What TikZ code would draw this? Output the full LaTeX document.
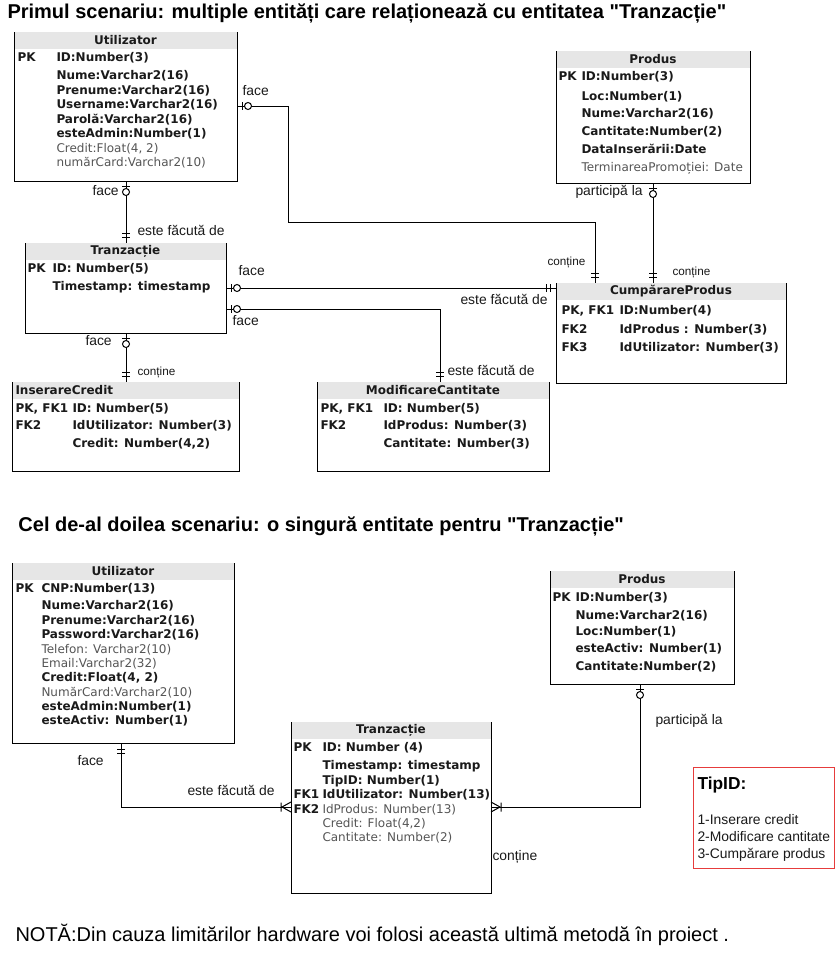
\documentclass[tikz,border=0pt]{standalone}
\usepackage{fontspec}
\setmainfont{Liberation Sans}[Ligatures=TeXOff]
\newfontfamily\erfont{DejaVu Sans}
\usetikzlibrary{calc}

\definecolor{hdrgray}{HTML}{E6E6E6}
\definecolor{txtdark}{HTML}{1A1A1A}
\definecolor{txtlight}{HTML}{555555}
\definecolor{tipred}{RGB}{230,60,60}

\tikzset{
  tbl/.style 2 args={anchor=north west, inner sep=0pt, minimum width=#1*0.75pt, minimum height=#2*0.75pt},
  cell/.style={anchor=mid west, inner sep=0pt, font=\erfont\fontsize{9}{10}\selectfont},
  hdr/.style={inner sep=0pt, font=\erfont\bfseries\fontsize{9}{10}\selectfont, text=txtdark},
  lbl/.style={anchor=mid west, inner sep=0pt, font=\fontsize{10.4}{12}\selectfont, text=txtdark},
  lbls/.style={lbl, font=\fontsize{8.8}{10}\selectfont},
  ttl/.style={anchor=mid west, inner sep=0pt, font=\bfseries\fontsize{15}{18}\selectfont},
}

\newcommand\rowb{\bfseries\color{txtdark}}
\newcommand\rowl{\mdseries\color{txtlight}}

% table frame: name, x, y, width, height (pixels)
\newcommand\ertable[5]{%
  \node[tbl={#4}{#5}] (#1) at (#2,#3) {};
  \fill[hdrgray] (#1.north west) rectangle ($(#1.north east)+(0,17)$);
  \draw (#1.north west) -- (#1.south west) -- (#1.south east) -- (#1.north east);
}
% rows: name, key x, attribute x, list of font/key/attribute/y
\newcommand\errows[4]{%
  \foreach \st/\k/\a/\y [count=\i] in {#4}{
    \node[cell] (#1-k\i) at (#2,\y) {\rowb\k};
    \node[cell] (#1-a\i) at (#3,\y) {\st\a};
  }}
% relation ends: point, direction away from the table
\newcommand\zeroone[2]{\begin{scope}[shift={(#1)},rotate=#2]
  \draw (5,-4) -- (5,4); \draw[fill=white] (11,0) circle[radius=3.5];
  \end{scope}}
\newcommand\oneone[2]{\begin{scope}[shift={(#1)},rotate=#2]
  \draw (6,-4) -- (6,4) (10,-4) -- (10,4);
  \end{scope}}
\newcommand\onemany[2]{\begin{scope}[shift={(#1)},rotate=#2]
  \draw (9,0) -- (0,-5) (9,0) -- (0,5) (10,-4.5) -- (10,4.5);
  \end{scope}}

\begin{document}
\begin{tikzpicture}[x=0.75pt, y=-0.75pt, line width=0.75pt]
  \fill[white] (0,0) rectangle (839,953);

  \node[ttl] (title1) at (7,15) {Primul scenariu: multiple entități care relaționează cu entitatea "Tranzacție"};

  % first scenario
  \ertable{u1}{14}{32}{222}{148}
  \node[hdr] (u1-t) at ($(u1.north)+(0,8.5)$) {Utilizator};
  \errows{u1}{17}{56}{\rowb/PK/{ID:Number(3)}/58, \rowb//{Nume:Varchar2(16)}/76,
    \rowb//{Prenume:Varchar2(16)}/91, \rowb//{Username:Varchar2(16)}/105,
    \rowb//{Parolă:Varchar2(16)}/120, \rowb//{esteAdmin:Number(1)}/134,
    \rowl//{Credit:Float(4, 2)}/149, \rowl//{numărCard:Varchar2(10)}/163}

  \ertable{pr1}{556}{51}{193}{131}
  \node[hdr] (pr1-t) at ($(pr1.north)+(0,8.5)$) {Produs};
  \errows{pr1}{558}{581}{\rowb/PK/{ID:Number(3)}/77, \rowb//{Loc:Number(1)}/97,
    \rowb//{Nume:Varchar2(16)}/114, \rowb//{Cantitate:Number(2)}/132,
    \rowb//{DataInserării:Date}/150, \rowl//{TerminareaPromoției: Date}/168}

  \ertable{tr1}{25}{243}{200}{89}
  \node[hdr] (tr1-t) at ($(tr1.north)+(0,8.5)$) {Tranzacție};
  \errows{tr1}{27}{52}{\rowb/PK/{ID: Number(5)}/269, \rowb//{Timestamp: timestamp}/287}

  \ertable{cp}{556}{283}{229}{99}
  \node[hdr] (cp-t) at ($(cp.north)+(0,8.5)$) {CumpărareProdus};
  \errows{cp}{561}{619}{\rowb/{PK, FK1}/{ID:Number(4)}/311, \rowb/FK2/{IdProdus : Number(3)}/330,
    \rowb/FK3/{IdUtilizator: Number(3)}/348}

  \ertable{ic}{12}{382}{226}{88}
  \node[hdr, anchor=mid west] (ic-t) at ($(ic.north west)+(3,8.5)$) {InserareCredit};
  \errows{ic}{15}{72}{\rowb/{PK, FK1}/{ID: Number(5)}/409, \rowb/FK2/{IdUtilizator: Number(3)}/426,
    \rowb//{Credit: Number(4,2)}/444}

  \ertable{mc}{317}{382}{231}{88}
  \node[hdr] (mc-t) at ($(mc.north)+(0,8.5)$) {ModificareCantitate};
  \errows{mc}{320}{383}{\rowb/{PK, FK1}/{ID: Number(5)}/409, \rowb/FK2/{IdProdus: Number(3)}/426,
    \rowb//{Cantitate: Number(3)}/444}

  \draw ($(u1.north east)+(0,74)$) coordinate (c1a) -- ++(51,0) -- ++(0,116) -| ($(cp.north west)+(39,0)$) coordinate (c1b);
  \draw ($(u1.south west)+(112,0)$) coordinate (c2a) -- (c2a |- tr1.north) coordinate (c2b);
  \draw ($(pr1.south west)+(97,0)$) coordinate (c3a) -- (c3a |- cp.north) coordinate (c3b);
  \draw ($(tr1.north east)+(0,45)$) coordinate (c4a) -- (c4a -| cp.west) coordinate (c4b);
  \draw ($(tr1.north east)+(0,66)$) coordinate (c5a) -| ($(mc.north west)+(123,0)$) coordinate (c5b);
  \draw ($(tr1.south west)+(101,0)$) coordinate (c6a) -- (c6a |- ic.north) coordinate (c6b);
  \zeroone{c1a}{0}   \oneone{c1b}{90}
  \zeroone{c2a}{-90} \oneone{c2b}{90}
  \zeroone{c3a}{-90} \oneone{c3b}{90}
  \zeroone{c4a}{0}   \oneone{c4b}{180}
  \zeroone{c5a}{0}   \oneone{c5b}{90}
  \zeroone{c6a}{-90} \oneone{c6b}{90}

  \node[lbl] (l1) at (242,92) {face};
  \node[lbls] (l2) at (547,262) {conține};
  \node[lbl] (l3) at (92,192) {face};
  \node[lbl] (l4) at (137,232) {este făcută de};
  \node[lbl] (l5) at (575,192) {participă la};
  \node[lbls] (l6) at (672,272) {conține};
  \node[lbl] (l7) at (238,272) {face};
  \node[lbl] (l8) at (460,301) {este făcută de};
  \node[lbl] (l9) at (232,322) {face};
  \node[lbl] (l10) at (447,372) {este făcută de};
  \node[lbl] (l11) at (85,342) {face};
  \node[lbls] (l12) at (137,372) {conține};

  \node[ttl] (title2) at (18,528) {Cel de-al doilea scenariu: o singură entitate pentru "Tranzacție"};

  % second scenario
  \ertable{u2}{12}{563}{221}{179}
  \node[hdr] (u2-t) at ($(u2.north)+(0,8.5)$) {Utilizator};
  \errows{u2}{15}{41}{\rowb/PK/{CNP:Number(13)}/589, \rowb//{Nume:Varchar2(16)}/606,
    \rowb//{Prenume:Varchar2(16)}/621, \rowb//{Password:Varchar2(16)}/635,
    \rowl//{Telefon: Varchar2(10)}/650, \rowl//{Email:Varchar2(32)}/664,
    \rowb//{Credit:Float(4, 2)}/678, \rowl//{NumărCard:Varchar2(10)}/693,
    \rowb//{esteAdmin:Number(1)}/707, \rowb//{esteActiv: Number(1)}/721}

  \ertable{pr2}{550}{571}{183}{112}
  \node[hdr] (pr2-t) at ($(pr2.north)+(0,8.5)$) {Produs};
  \errows{pr2}{552}{575}{\rowb/PK/{ID:Number(3)}/598, \rowb//{Nume:Varchar2(16)}/616,
    \rowb//{Loc:Number(1)}/632, \rowb//{esteActiv: Number(1)}/649,
    \rowb//{Cantitate:Number(2)}/667}

  \ertable{tr2}{291}{722}{199}{170}
  \node[hdr] (tr2-t) at ($(tr2.north)+(0,8.5)$) {Tranzacție};
  \errows{tr2}{293}{322}{\rowb/PK/{ID: Number (4)}/748, \rowb//{Timestamp: timestamp}/766,
    \rowb//{TipID: Number(1)}/781, \rowb/FK1/{IdUtilizator: Number(13)}/795,
    \rowl/FK2/{IdProdus: Number(13)}/810, \rowl//{Credit: Float(4,2)}/824,
    \rowl//{Cantitate: Number(2)}/838}

  \draw ($(u2.south west)+(109,0)$) coordinate (c7a) |- ($(tr2.north west)+(0,85)$) coordinate (c7b);
  \draw ($(pr2.south west)+(90,0)$) coordinate (c8a) |- ($(tr2.north east)+(0,85)$) coordinate (c8b);
  \oneone{c7a}{-90}  \onemany{c7b}{180}
  \zeroone{c8a}{-90} \onemany{c8b}{0}

  \node[lbl] (l13) at (77,762) {face};
  \node[lbl] (l14) at (187,792) {este făcută de};
  \node[lbl] (l15) at (655,721) {participă la};
  \node[lbl] (l16) at (492,857) {conține};

  \node[tbl={140}{100}] (tip) at (693,767) {};
  \draw[tipred] (tip.north west) rectangle (tip.south east);
  \node[anchor=mid west, inner sep=0pt, font=\bfseries\fontsize{13}{15}\selectfont] (tip-t) at (697,786) {TipID:};
  \node[lbl] (tip1) at (697,821) {1-Inserare credit};
  \node[lbl] (tip2) at (697,838) {2-Modificare cantitate};
  \node[lbl] (tip3) at (697,855) {3-Cumpărare produs};

  \node[anchor=mid west, inner sep=0pt, font=\fontsize{15}{18}\selectfont] (nota) at (15,938) {NOTĂ:Din cauza limitărilor hardware voi folosi această ultimă metodă în proiect .};
\end{tikzpicture}
\end{document}
